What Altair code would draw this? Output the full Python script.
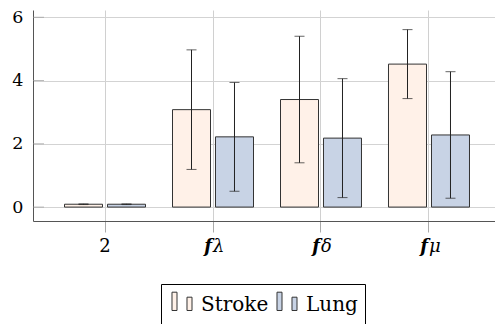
import altair as alt
import pandas as pd

# ---- data ----
categories = ["2", "fλ", "fδ", "fμ"]
label_bold = ["", "f", "f", "f"]
label_rest = ["2", "λ", "δ", "μ"]
series = ["Stroke", "Lung"]
stroke_mean = [0.09, 3.08, 3.40, 4.52]
stroke_err = [0.01, 1.89, 2.00, 1.09]
lung_mean = [0.09, 2.22, 2.18, 2.28]
lung_err = [0.01, 1.72, 1.88, 2.00]
y_ticks = [0, 2, 4, 6]

rows = []
for i, c in enumerate(categories):
    rows.append({"cat": c, "series": "Stroke", "mean": stroke_mean[i], "err": stroke_err[i]})
    rows.append({"cat": c, "series": "Lung", "mean": lung_mean[i], "err": lung_err[i]})
df = pd.DataFrame(rows)
df_lab = pd.DataFrame({"cat": categories, "bold": label_bold, "rest": label_rest})
df_ticks = pd.DataFrame({"v": y_ticks})

FONT = "DejaVu Serif"
fill_colors = ["#FFF1E8", "#C8D3E5"]

x_scale = alt.Scale(paddingInner=0, paddingOuter=0.1389, align=0.6)
x_axis = alt.Axis(title=None, labels=False, ticks=True, tickSize=11, tickColor="#aaaaaa",
                  grid=True, gridColor="#d0d0d0", domainColor="#555555", bandPosition=0.5)
y_scale = alt.Scale(domain=[-0.44, 6.23], nice=False, zero=False)
y_axis = alt.Axis(title=None, values=y_ticks, grid=True, gridColor="#d3d3d3", ticks=False,
                  labelPadding=10, labelFont=FONT, labelFontSize=17.5, labelColor="black",
                  domainColor="#555555")

X = alt.X("cat:N", sort=categories, scale=x_scale, axis=x_axis, title=None)
XO = alt.XOffset("series:N", sort=series,
                 scale=alt.Scale(domain=series, paddingInner=0.116, paddingOuter=0.314))

base = alt.Chart(df).transform_calculate(
    lo="datum.mean - datum.err", hi="datum.mean + datum.err"
)

legend_path = ("M-0.741,-0.948H-0.370V0.407H-0.741Z "
               "M0.370,-0.578H0.741V0.407H0.370Z")

bars = base.mark_bar(stroke="#333333", strokeWidth=1).encode(
    x=X, xOffset=XO,
    y=alt.Y("mean:Q", scale=y_scale, axis=y_axis, title=None),
    y2=alt.datum(0),
    fill=alt.Fill("series:N", sort=series,
                  scale=alt.Scale(domain=series, range=fill_colors),
                  legend=alt.Legend(orient="none", legendX=128, legendY=274,
                                    direction="horizontal", title=" ",
                                    titleOrient="bottom", titleFontSize=8, titlePadding=0,
                                    symbolType=legend_path, symbolSize=729,
                                    symbolStrokeColor="#333333", symbolStrokeWidth=1,
                                    symbolOpacity=1,
                                    labelFont=FONT, labelFontSize=20, labelColor="black",
                                    labelOffset=5, columnPadding=4, padding=7,
                                    strokeColor="black", fillColor="white")),
)

err_rule = base.mark_rule(color="#222222", strokeWidth=1).encode(
    x=X, xOffset=XO,
    y=alt.Y("lo:Q", scale=y_scale, axis=y_axis, title=None),
    y2="hi:Q",
)
cap_hi = base.mark_tick(color="#222222", thickness=1, size=10, orient="horizontal").encode(
    x=X, xOffset=XO, y=alt.Y("hi:Q", scale=y_scale, axis=y_axis, title=None)
)
cap_lo = base.mark_tick(color="#222222", thickness=1, size=10, orient="horizontal").encode(
    x=X, xOffset=XO, y=alt.Y("lo:Q", scale=y_scale, axis=y_axis, title=None)
)

ytick_marks = alt.Chart(df_ticks).mark_tick(color="#999999", thickness=1, size=11,
                                            orient="horizontal").encode(
    y=alt.Y("v:Q", scale=y_scale, axis=y_axis, title=None),
    x=alt.value(5.5),
)

LAB_Y = 242
lab = alt.Chart(df_lab)
lab_plain = lab.transform_filter("datum.bold == ''").mark_text(
    align="center", baseline="alphabetic", font=FONT, fontSize=18, color="black"
).encode(x=X, y=alt.value(LAB_Y), text="rest:N")
lab_f = lab.transform_filter("datum.bold != ''").mark_text(
    align="right", baseline="alphabetic", font=FONT, fontSize=18, fontStyle="italic",
    fontWeight="bold", color="black", dx=-1
).encode(x=X, y=alt.value(LAB_Y), text="bold:N")
lab_g = lab.transform_filter("datum.bold != ''").mark_text(
    align="left", baseline="alphabetic", font=FONT, fontSize=18, fontStyle="italic",
    color="black", dx=0
).encode(x=X, y=alt.value(LAB_Y), text="rest:N")

chart = alt.layer(
    bars, err_rule, cap_hi, cap_lo, ytick_marks, lab_plain, lab_f, lab_g
).properties(
    width=462, height=211,
    autosize=alt.AutoSizeParams(type="none"),
    padding={"left": 33, "top": 10, "right": 0, "bottom": 103},
).configure_view(stroke=None)

chart.save("out.html", embed_options={"renderer": "svg", "actions": False})
